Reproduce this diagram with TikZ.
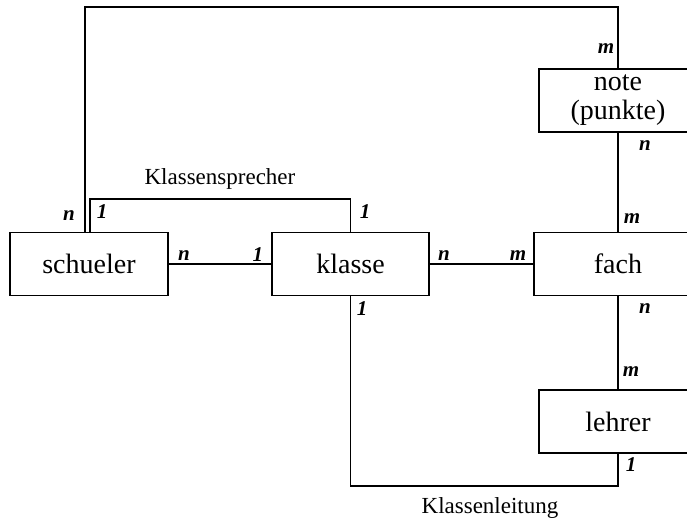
\documentclass[tikz,border=0pt]{standalone}
\usepackage{fontspec}
\setmainfont{Liberation Serif}
\usetikzlibrary{positioning, calc}

\begin{document}
\begin{tikzpicture}[x=0.5pt, y=-0.5pt, line width=0.75pt,
  entity/.style={draw, rectangle, minimum height=31.5pt, font=\fontsize{14}{14.5}\selectfont, align=center},
  card/.style={font=\fontsize{10.5}{11}\selectfont\bfseries\itshape},
  rel/.style={font=\fontsize{11.5}{13}\selectfont}]
\useasboundingbox (0,0) rectangle (687,519);
\clip (0,0) rectangle (687,519);

% Entities
\node[entity, minimum width=79pt] (schueler) at (89,264) {schueler};
\node[entity, minimum width=78.5pt] (klasse) at (350.5,264) {klasse};
\node[entity, minimum width=84pt] (fach) at (618,264) {fach};
\node[entity, minimum width=79pt, inner sep=1pt] (note) at (618,100.5) {note\\(punkte)};
\node[entity, minimum width=79pt] (lehrer) at (618,421.5) {lehrer};

% Corner points of the routed relations
\coordinate (top) at (350,7);
\coordinate (sprecher) at (220,199);
\coordinate (leitung) at (490,486);

% Relations
\draw (schueler) -- (klasse);
\draw (klasse) -- (fach);
\draw (note) -- (fach);
\draw (fach) -- (lehrer);
\draw ([xshift=-2pt]schueler.north) |- (top) -| (note.north);
\draw ([xshift=0.5pt]schueler.north) |- (sprecher) -| (klasse.north);
\draw (klasse.south) |- (leitung) -| (lehrer.south);

\node[rel, above=1pt] at (sprecher) {Klassensprecher};
\node[rel, below=2pt] at (leitung) {Klassenleitung};

% Cardinalities
\node[card] at (69,216) {n};
\node[card] at (102,212) {1};
\node[card] at (365,212) {1};
\node[card] at (184,256) {n};
\node[card] at (258,255) {1};
\node[card] at (444,256) {n};
\node[card] at (518,256) {m};
\node[card] at (606,49) {m};
\node[card] at (645,146) {n};
\node[card] at (632,219) {m};
\node[card] at (645,309) {n};
\node[card] at (631,372) {m};
\node[card] at (362,309) {1};
\node[card] at (631,465) {1};
\end{tikzpicture}
\end{document}
